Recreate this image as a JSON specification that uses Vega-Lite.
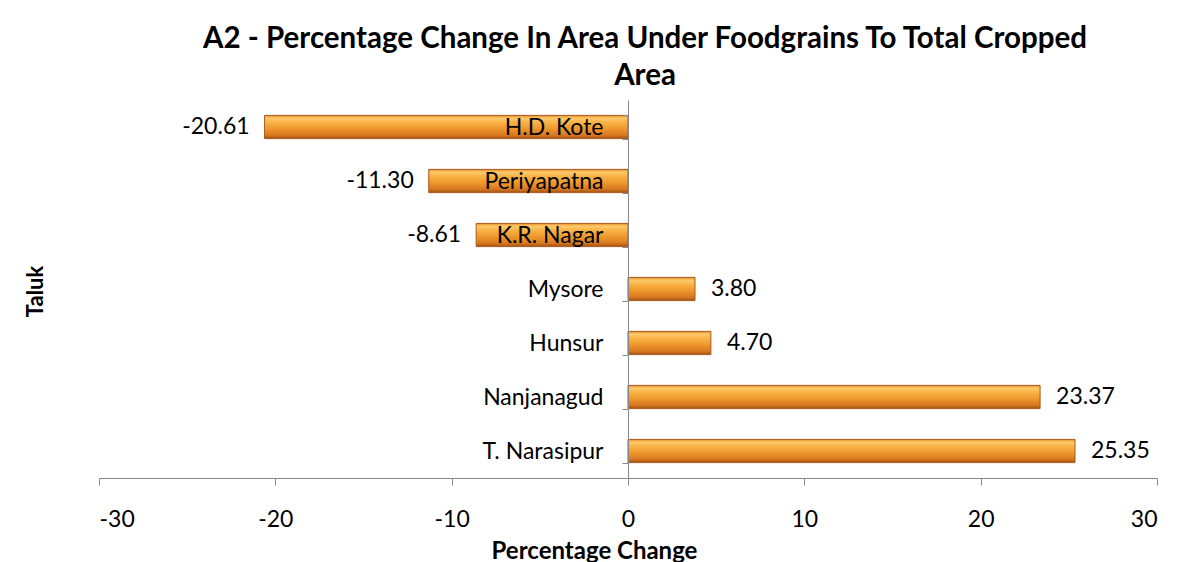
{
  "$schema": "https://vega.github.io/schema/vega-lite/v6.json",
  "width": 1058,
  "height": 378,
  "autosize": {"type": "none"},
  "padding": {"left": 99, "top": 100, "right": 36, "bottom": 84},
  "background": "white",
  "title": {
    "text": ["A2 - Percentage Change In Area Under Foodgrains To Total Cropped", "Area"],
    "font": "Lato",
    "fontSize": 29.5,
    "fontWeight": "bold",
    "color": "black",
    "anchor": "middle",
    "dx": 17,
    "dy": 6,
    "lineHeight": 37,
    "offset": 4
  },
  "config": {
    "view": {"stroke": null},
    "locale": {
      "number": {"decimal": ".", "thousands": ",", "grouping": [3], "currency": ["$", ""], "minus": "-"}
    },
    "font": "Lato"
  },
  "data": {
    "values": [
      {"taluk": "H.D. Kote", "value": -20.61, "label": "-20.61"},
      {"taluk": "Periyapatna", "value": -11.30, "label": "-11.30"},
      {"taluk": "K.R. Nagar", "value": -8.61, "label": "-8.61"},
      {"taluk": "Mysore", "value": 3.80, "label": "3.80"},
      {"taluk": "Hunsur", "value": 4.70, "label": "4.70"},
      {"taluk": "Nanjanagud", "value": 23.37, "label": "23.37"},
      {"taluk": "T. Narasipur", "value": 25.35, "label": "25.35"}
    ]
  },
  "encoding": {
    "y": {
      "field": "taluk",
      "type": "nominal",
      "sort": null,
      "scale": {"paddingInner": 0.57, "paddingOuter": 0.285},
      "axis": {
        "title": "Taluk",
        "offset": -529,
        "zindex": 2,
        "tickBand": "extent",
        "tickSize": 6,
        "tickColor": "#888888",
        "domainColor": "#888888",
        "labelFontSize": 23,
        "labelColor": "black",
        "labelPadding": 19,
        "labelFont": "Lato",
        "titleFont": "Lato",
        "titleFontSize": 22,
        "titleFontWeight": "bold",
        "titleColor": "black",
        "titleX": -593,
        "titleY": 191,
        "titleAngle": -90,
        "titleAlign": "center",
        "titleBaseline": "middle"
      }
    },
    "x": {
      "field": "value",
      "type": "quantitative",
      "scale": {"domain": [-30, 30], "nice": false},
      "axis": {
        "title": "Percentage Change",
        "values": [-30, -20, -10, 0, 10, 20, 30],
        "format": "d",
        "grid": false,
        "tickSize": 7,
        "tickColor": "#888888",
        "domainColor": "#888888",
        "labelFontSize": 23,
        "labelColor": "black",
        "labelPadding": 23,
        "labelFont": "Lato",
        "titleFont": "Lato",
        "titleFontSize": 24,
        "titleFontWeight": "bold",
        "titleColor": "black",
        "titleX": 495,
        "titleY": 80,
        "titleAlign": "center",
        "titleBaseline": "alphabetic"
      }
    }
  },
  "layer": [
    {
      "mark": {
        "type": "bar",
        "stroke": "#A9581A",
        "strokeWidth": 1,
        "color": {
          "gradient": "linear",
          "x1": 0, "y1": 0, "x2": 0, "y2": 1,
          "stops": [
            {"offset": 0, "color": "#E98A22"},
            {"offset": 0.12, "color": "#FCCB6C"},
            {"offset": 0.3, "color": "#F9B246"},
            {"offset": 0.55, "color": "#EF9A2E"},
            {"offset": 0.85, "color": "#D97820"},
            {"offset": 1, "color": "#9E5216"}
          ]
        }
      }
    },
    {
      "transform": [{"filter": "datum.value < 0"}],
      "mark": {"type": "text", "align": "right", "baseline": "middle", "dx": -15, "fontSize": 23, "font": "Lato", "color": "black"},
      "encoding": {"text": {"field": "label"}}
    },
    {
      "transform": [{"filter": "datum.value >= 0"}],
      "mark": {"type": "text", "align": "left", "baseline": "middle", "dx": 16, "fontSize": 23, "font": "Lato", "color": "black"},
      "encoding": {"text": {"field": "label"}}
    }
  ]
}
